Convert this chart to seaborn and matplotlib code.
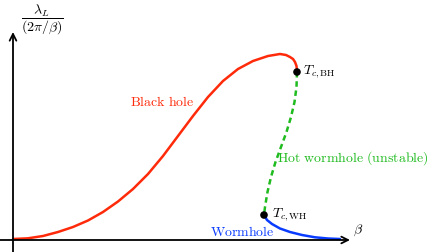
import matplotlib
matplotlib.use("Agg")
import matplotlib.pyplot as plt
import seaborn as sns
import pandas as pd

# Schematic data (beta, lambda_L / (2pi/beta)) in arbitrary units
beta_bh = [0, 15, 30, 45, 60, 75, 90, 105, 120, 135, 150, 165, 180, 195, 210, 225, 240,
           255, 267, 273, 277, 280, 282, 283.5, 284]
lam_bh = [1, 1.7, 4, 8, 13, 19.5, 28, 38.5, 51, 66, 84, 104, 124, 143, 159, 171, 179,
          184, 186, 185, 183, 181, 178, 174, 169]

beta_hw = [284, 283.5, 281.5, 278, 273.5, 268, 262.5, 258, 254.5, 252, 251]
lam_hw = [168, 153, 138, 123, 108, 93, 78, 63, 48, 33, 25]

beta_wh = [251, 254, 259, 267, 277, 289, 302, 315, 327]
lam_wh = [25, 20, 16, 11.5, 8, 5, 2.7, 1.5, 1]

crit_beta = [284, 251]
crit_lam = [168, 25]
crit_labels = [r"$T_{c,\mathrm{BH}}$", r"$T_{c,\mathrm{WH}}$"]

RED = "#ff2a0a"
GREEN = "#1fbb1f"
BLUE = "#0a3cff"

sns.set_theme(style="white")
plt.rcParams["mathtext.fontset"] = "cm"
plt.rcParams["font.family"] = ["DejaVu Serif"]

fig = plt.figure(figsize=(4.36, 2.52), dpi=100)
ax = fig.add_axes([0, 0, 1, 1])
ax.set_xlim(-13, 423)
ax.set_ylim(-12, 240)
ax.axis("off")

# axes arrows
ax.annotate("", xy=(337, 0), xytext=(-13, 0),
            arrowprops=dict(arrowstyle="->", lw=1.3, color="black", mutation_scale=12,
                            shrinkA=0, shrinkB=0))
ax.annotate("", xy=(0, 208), xytext=(0, -12),
            arrowprops=dict(arrowstyle="->", lw=1.3, color="black", mutation_scale=12,
                            shrinkA=0, shrinkB=0))

df_bh = pd.DataFrame({"beta": beta_bh, "lam": lam_bh})
df_hw = pd.DataFrame({"beta": beta_hw, "lam": lam_hw})
df_wh = pd.DataFrame({"beta": beta_wh, "lam": lam_wh})

sns.lineplot(data=df_bh, x="beta", y="lam", sort=False, color=RED, lw=1.8, ax=ax,
             estimator=None, solid_joinstyle="round")
sns.lineplot(data=df_hw, x="beta", y="lam", sort=False, color=GREEN, lw=1.8, ax=ax,
             estimator=None, linestyle=(0, (2.2, 1.5)))
sns.lineplot(data=df_wh, x="beta", y="lam", sort=False, color=BLUE, lw=1.8, ax=ax,
             estimator=None, solid_joinstyle="round")

sns.scatterplot(x=crit_beta, y=crit_lam, color="black", s=30, ax=ax, zorder=5,
                edgecolor="none")

ax.text(149, 138, r"$\mathrm{Black\ hole}$", color=RED, fontsize=10, ha="center", va="center")
ax.text(264, 82, r"$\mathrm{Hot\ wormhole\ (unstable)}$", color=GREEN, fontsize=10,
        ha="left", va="center")
ax.text(229, 8, r"$\mathrm{Wormhole}$", color=BLUE, fontsize=10, ha="center", va="center")
ax.text(290, 168, crit_labels[0], color="black", fontsize=10, ha="left", va="center")
ax.text(259, 25, crit_labels[1], color="black", fontsize=10, ha="left", va="center")
ax.text(345, 10, r"$\beta$", color="black", fontsize=10, ha="center", va="center")
ax.text(29, 220, r"$\dfrac{\lambda_L}{(2\pi/\beta)}$", color="black", fontsize=10,
        ha="center", va="center")

fig.savefig("out.png", dpi=100)
